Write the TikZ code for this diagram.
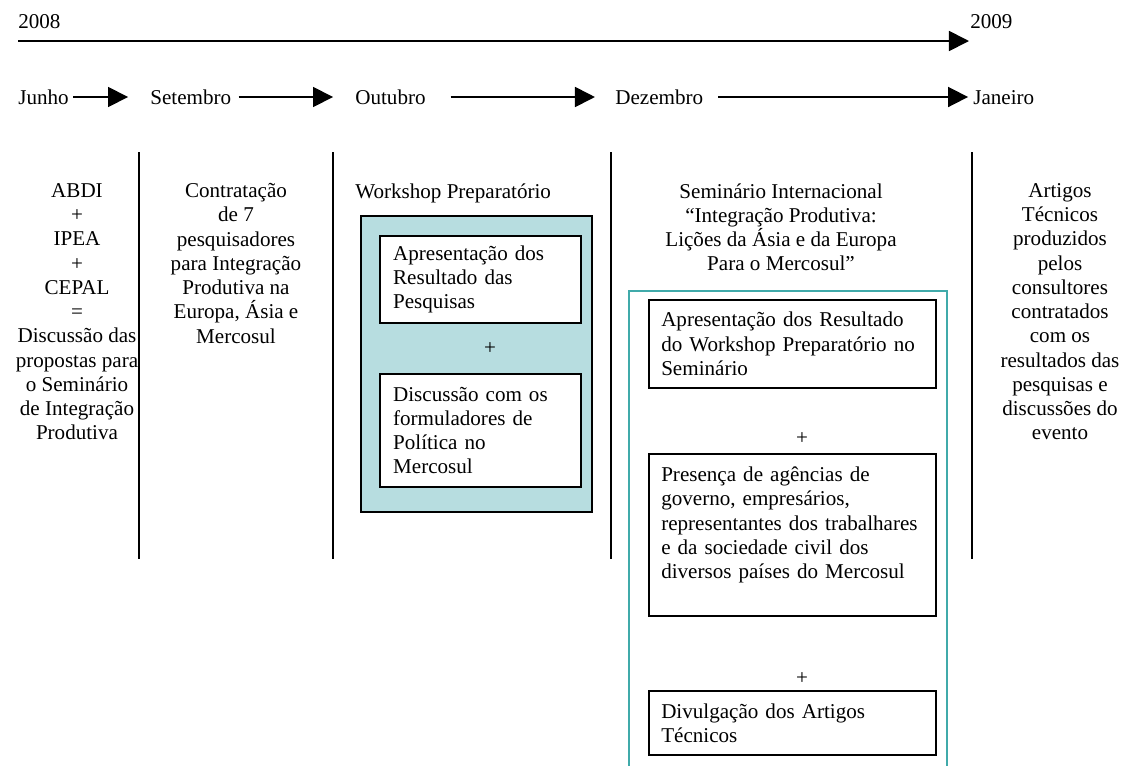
\documentclass[tikz,border=0pt]{standalone}
\usepackage{fontspec}
\setmainfont{Liberation Serif}
\usetikzlibrary{arrows.meta}
\definecolor{wsfill}{RGB}{183,221,224}
\definecolor{semline}{RGB}{64,170,170}

\begin{document}
\begin{tikzpicture}[x=0.02cm, y=-0.02cm,
  every node/.style={font=\fontsize{12}{13.8}\selectfont, inner sep=0pt},
  tl/.style={line width=1pt, -{Triangle[length=11.4pt,width=11.4pt]}},
  month/.style={anchor=west, text height=9pt, text depth=1pt},
  col/.style={anchor=north, align=center},
  sepline/.style={line width=1.1pt},
  box/.style={draw, line width=1.1pt, fill=white, anchor=north west, align=left, inner xsep=7.5pt},
  wsbox/.style={box, text width=99.4pt},
  sembox/.style={box, inner xsep=7pt, text width=149.3pt}]
\clip (0,0) rectangle (1130,765);

\node[anchor=west] (y08) at (18,22) {2008};
\node[anchor=west] (y09) at (970,22) {2009};
\coordinate (t0) at (18,41);
\coordinate (t1) at (969,41);
\draw[tl] (t0) -- (t1);

\node[month] (jun) at (18,97) {Junho};
\node[month] (set) at (150,97) {Setembro};
\node[month] (out) at (355,97) {Outubro};
\node[month] (dez) at (615,97) {Dezembro};
\node[month] (jan) at (973,97) {Janeiro};
\draw[tl, shorten <=2.3pt, shorten >=12.5pt] (jun) -- (set);
\draw[tl, shorten <=4pt, shorten >=12.5pt] (set) -- (out);
\draw[tl, shorten <=14pt, shorten >=11.4pt] (out) -- (dez);
\draw[tl, shorten <=8.5pt, shorten >=2.8pt] (dez) -- (jan);

\foreach \x in {139,333,611,972}
  \draw[sepline] (\x,152) -- (\x,559);

\node[col] (abdi) at (77,183) {ABDI\\+\\IPEA\\+\\CEPAL\\=\\Discussão das\\propostas para\\o Seminário\\de Integração\\Produtiva};
\node[col] (contr) at (236,183) {Contratação\\de 7\\pesquisadores\\para Integração\\Produtiva na\\Europa, Ásia e\\Mercosul};
\node[anchor=north west] (wstitle) at (355,183) {Workshop Preparatório};
\node[col] (semtitle) at (781,183) {Seminário Internacional\\“Integração Produtiva:\\Lições da Ásia e da Europa\\Para o Mercosul”};
\node[col] (artigos) at (1060,183) {Artigos\\Técnicos\\produzidos\\pelos\\consultores\\contratados\\com os\\resultados das\\pesquisas e\\discussões do\\evento};

\draw[line width=1.1pt, fill=wsfill] (361,216) rectangle (592,512);
\node[wsbox, minimum height=49.5pt] (ws1) at (379,235) {Apresentação dos\\Resultado das\\Pesquisas};
\node (wsplus) at (490,349) {+};
\node[wsbox, minimum height=64.3pt] (ws2) at (379,373) {Discussão com os\\formuladores de\\Política no\\Mercosul};

\draw[semline, line width=1.2pt] (629,291) rectangle (947,800);
\node[sembox, minimum height=50.1pt] (sem1) at (648,299) {Apresentação dos Resultado\\do Workshop Preparatório no\\Seminário};
\node (semplus1) at (802,439) {+};
\node[sembox, minimum height=92.2pt] (sem2) at (648,453) {Presença de agências de\\governo, empresários,\\representantes dos trabalhares\\e da sociedade civil dos\\diversos países do Mercosul\\~};
\node (semplus2) at (802,679) {+};
\node[sembox, minimum height=36.4pt] (sem3) at (648,690) {Divulgação dos Artigos\\Técnicos};
\end{tikzpicture}
\end{document}
